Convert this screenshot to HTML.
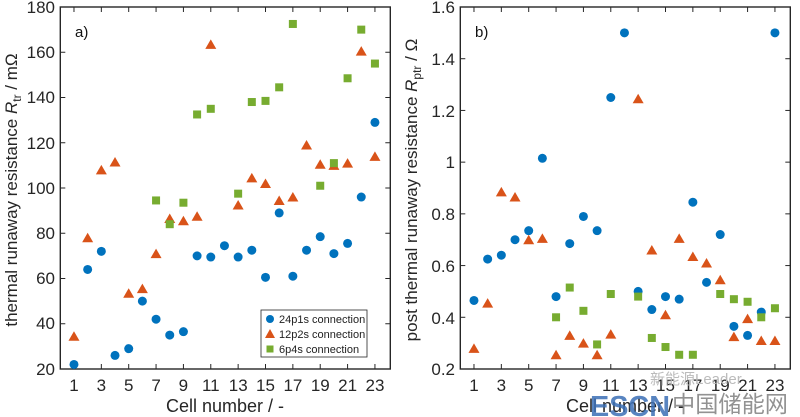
<!DOCTYPE html>
<html><head><meta charset="utf-8"><style>
html,body{margin:0;padding:0;background:#fff;}
svg{display:block;font-family:"Liberation Sans","Noto Sans CJK SC",sans-serif;}
</style></head><body>
<svg id="s" width="800" height="417" viewBox="0 0 800 417" xmlns="http://www.w3.org/2000/svg">
<rect width="800" height="417" fill="#fff"/>
<g id="ticks" stroke="#262626" stroke-width="1"></g>
<rect x="60.3" y="7" width="330" height="362" fill="none" stroke="#262626" stroke-width="1.4"/>
<rect x="460.3" y="7" width="330" height="362" fill="none" stroke="#262626" stroke-width="1.4"/>
<g id="marks"></g>
<g font-size="17" fill="#262626" text-anchor="end">
<text x="55" y="13">180</text><text x="55" y="58">160</text><text x="55" y="103">140</text><text x="55" y="149">120</text><text x="55" y="194">100</text><text x="55" y="239">80</text><text x="55" y="284">60</text><text x="55" y="329">40</text><text x="55" y="375">20</text>
<text x="455" y="13">1.6</text><text x="455" y="65">1.4</text><text x="455" y="117">1.2</text><text x="455" y="168">1</text><text x="455" y="220">0.8</text><text x="455" y="272">0.6</text><text x="455" y="324">0.4</text><text x="455" y="375">0.2</text>
</g>
<g font-size="17" fill="#262626" text-anchor="middle">
<text x="74" y="391">1</text><text x="101.4" y="391">3</text><text x="128.7" y="391">5</text><text x="156.1" y="391">7</text><text x="183.4" y="391">9</text><text x="210.8" y="391">11</text><text x="238.2" y="391">13</text><text x="265.5" y="391">15</text><text x="292.9" y="391">17</text><text x="320.3" y="391">19</text><text x="347.6" y="391">21</text><text x="375" y="391">23</text>
<text x="474" y="391">1</text><text x="501.4" y="391">3</text><text x="528.7" y="391">5</text><text x="556.1" y="391">7</text><text x="583.4" y="391">9</text><text x="610.8" y="391">11</text><text x="638.2" y="391">13</text><text x="665.5" y="391">15</text><text x="692.9" y="391">17</text><text x="720.3" y="391">19</text><text x="747.6" y="391">21</text><text x="775" y="391">23</text>
<text x="225" y="412" font-size="18">Cell number / -</text>
<text x="625" y="412" font-size="18">Cell number / -</text>
</g>
<text x="75" y="37" font-size="15" fill="#111">a)</text>
<text x="475" y="37" font-size="15" fill="#111">b)</text>
<text transform="translate(17,190) rotate(-90)" font-size="17" fill="#262626" text-anchor="middle">thermal runaway resistance <tspan font-style="italic">R</tspan><tspan font-size="12" dy="4">tr</tspan><tspan dy="-4"> / mΩ</tspan></text>
<text transform="translate(417,190) rotate(-90)" font-size="17" fill="#262626" text-anchor="middle">post thermal runaway resistance <tspan font-style="italic">R</tspan><tspan font-size="12" dy="4">ptr</tspan><tspan dy="-4"> / Ω</tspan></text>
<rect x="261" y="310" width="106" height="47" fill="#fff" stroke="#262626" stroke-width="0.8"/>
<circle cx="270" cy="319" r="4" fill="#0072BD"/>
<polygon points="270,329 275,338 265,338" fill="#D95319"/>
<rect x="266.5" y="345.5" width="7" height="7" fill="#77AC30"/>
<g font-size="11" fill="#222">
<text x="279" y="323">24p1s connection</text>
<text x="279" y="338">12p2s connection</text>
<text x="279" y="353">6p4s connection</text>
</g>
<text x="650" y="384" font-size="15" fill="#bbb">新能源Leader</text>
<text x="590" y="416" font-size="29" font-weight="bold" fill="#3b6fb6" opacity="0.85" textLength="80" lengthAdjust="spacingAndGlyphs">ESCN</text>
<text x="672" y="412" font-size="23" fill="#777" opacity="0.8" textLength="116" lengthAdjust="spacingAndGlyphs">中国储能网</text>
</svg>
<script>
const NS="http://www.w3.org/2000/svg";
const X=n=>60.3+n*13.68;
const YA=v=>369-(v-20)*362/160;
const YB=v=>369-(v-0.2)*362/1.4;
const t=document.getElementById('ticks'),m=document.getElementById('marks');
function ln(x1,y1,x2,y2){const l=document.createElementNS(NS,'line');l.setAttribute('x1',x1);l.setAttribute('y1',y1);l.setAttribute('x2',x2);l.setAttribute('y2',y2);t.appendChild(l);}
[0,400].forEach(o=>{
 for(let n=1;n<=23;n+=2){ln(X(n)+o,369,X(n)+o,364);ln(X(n)+o,7,X(n)+o,12);}
});
for(let v=20;v<=180;v+=20){const y=YA(v);ln(60.3,y,65.3,y);ln(390.3,y,385.3,y);}
for(let i=0;i<=7;i++){const y=369-i*362/7;ln(460.3,y,465.3,y);ln(790.3,y,785.3,y);}
function c(x,y){const e=document.createElementNS(NS,'circle');e.setAttribute('cx',x);e.setAttribute('cy',y);e.setAttribute('r',4.5);e.setAttribute('fill','#0072BD');m.appendChild(e);}
function tr(x,y){const e=document.createElementNS(NS,'polygon');e.setAttribute('points',`${x},${y-5} ${x+5.5},${y+4.5} ${x-5.5},${y+4.5}`);e.setAttribute('fill','#D95319');m.appendChild(e);}
function sq(x,y){const e=document.createElementNS(NS,'rect');e.setAttribute('x',x-4);e.setAttribute('y',y-4);e.setAttribute('width',8);e.setAttribute('height',8);e.setAttribute('fill','#77AC30');m.appendChild(e);}
const aB=[22,64,72,26,29,50,42,35,36.5,70,69.5,74.5,69.5,72.5,60.5,89,61,72.5,78.5,71,75.5,96,129];
const aO={1:34.5,2:78,3:108,4:111.5,5:53.5,6:55.5,7:71,8:86.5,9:85.5,10:87.5,11:163.5,13:92.5,14:104.5,15:102,16:94.5,17:96,18:119,19:110.5,20:110,21:111,22:160.5,23:114};
const aG={7:94.5,8:84,9:93.5,10:132.5,11:135,13:97.5,14:138,15:138.5,16:144.5,17:172.5,19:101,20:111,21:148.5,22:170,23:155};
const bB=[0.465,0.625,0.64,0.70,0.735,1.015,0.48,0.685,0.79,0.735,1.25,1.5,0.50,0.43,0.48,0.47,0.845,0.535,0.72,0.365,0.33,0.42,1.5];
const bO={1:0.28,2:0.455,3:0.885,4:0.865,5:0.70,6:0.705,7:0.255,8:0.33,9:0.30,10:0.255,11:0.335,13:1.245,14:0.66,15:0.41,16:0.705,17:0.635,18:0.61,19:0.545,20:0.325,21:0.395,22:0.31,23:0.31};
const bG={7:0.40,8:0.515,9:0.425,10:0.295,11:0.49,13:0.48,14:0.32,15:0.285,16:0.255,17:0.255,19:0.49,20:0.47,21:0.46,22:0.40,23:0.435};
aB.forEach((v,i)=>c(X(i+1),YA(v)));
for(const k in aO)tr(X(+k),YA(aO[k]));
for(const k in aG)sq(X(+k),YA(aG[k]));
bB.forEach((v,i)=>c(X(i+1)+400,YB(v)));
for(const k in bO)tr(X(+k)+400,YB(bO[k]));
for(const k in bG)sq(X(+k)+400,YB(bG[k]));
</script>
</body></html>
